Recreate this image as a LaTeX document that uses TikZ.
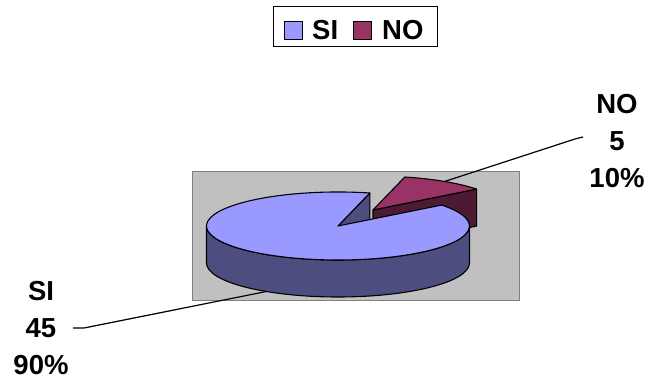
\documentclass[tikz,border=0pt]{standalone}
\usepackage{fontspec}
\setmainfont{Liberation Sans}
\definecolor{sitop}{HTML}{9999FF}
\definecolor{siside}{HTML}{4D4D80}
\definecolor{notop}{HTML}{993366}
\definecolor{noside}{HTML}{4D1A33}
\definecolor{plotfill}{HTML}{C0C0C0}
\definecolor{plotedge}{HTML}{808080}
\begin{document}
\begin{tikzpicture}[x=1pt,y=1pt,
  edge/.style={draw=black,line width=1.1pt,line join=round},
  lbl/.style={font=\fontsize{27.5}{37}\selectfont\bfseries,align=center,inner sep=0pt},
  legtxt/.style={font=\fontsize{27.5}{30}\selectfont\bfseries,inner sep=0pt,anchor=base west},
  legsq/.style={draw=black,line width=1pt,minimum size=18pt,inner sep=0pt},
  leader/.style={draw=black,line width=1.2pt}]
\useasboundingbox (0,0) rectangle (649,379);
\def\rx{131.5}\def\ry{34}\def\dd{37}
% plot area
\node[draw=plotedge,fill=plotfill,line width=1pt,minimum width=327pt,minimum height=129pt,inner sep=0pt,anchor=south west] (plot) at (192,78) {};
% pie centres
\coordinate (C) at (338,153);
\coordinate (Cb) at (338,116);
\coordinate (N) at (373,169);
\coordinate (Nb) at (373,132);
% SI radial face
\draw[edge,fill=siside] (C) -- ++({\rx*cos(76)},{\ry*sin(76)}) -- ++(0,-\dd) -- (Cb) -- cycle;
% NO radial face and top
\draw[edge,fill=noside] (N) -- ++({\rx*cos(38)},{\ry*sin(38)}) -- ++(0,-\dd) -- (Nb) -- cycle;
\draw[edge,fill=notop] (N) -- ++({\rx*cos(38)},{\ry*sin(38)}) arc[start angle=38,end angle=76,x radius=\rx,y radius=\ry] -- cycle;
% SI side and top
\draw[edge,fill=siside] (C) ++(-\rx,0) arc[start angle=180,end angle=360,x radius=\rx,y radius=\ry] -- ++(0,-\dd) arc[start angle=360,end angle=180,x radius=\rx,y radius=\ry] -- cycle;
\draw[edge,fill=sitop] (C) -- ++({\rx*cos(76)},{\ry*sin(76)}) arc[start angle=76,end angle=398,x radius=\rx,y radius=\ry] -- cycle;
% labels
\node[lbl] (lblNO) at (617,238) {NO\\5\\10\%};
\node[lbl] (lblSI) at (41,51) {SI\\45\\90\%};
\coordinate (noEnd) at ({373+\rx*cos(57)},{169+\ry*sin(57)});
\coordinate (siEnd) at ({338+\rx*cos(237)},{116+\ry*sin(237)});
\coordinate (noKnee) at (575,240);
\coordinate (noTip) at (583,242);
\coordinate (siKnee) at (84,51);
\coordinate (siTip) at (73,51);
\draw[leader] (noTip) -- (noKnee) -- (noEnd);
\draw[leader] (siTip) -- (siKnee) -- (siEnd);
% legend
\node[draw=black,line width=1pt,minimum width=164pt,minimum height=40pt,inner sep=0pt,anchor=south west] (legend) at (273,332) {};
\node[legsq,fill=sitop] (sqSI) at (293.5,348) {};
\node[legtxt] (txtSI) at (312,339.5) {SI};
\node[legsq,fill=notop] (sqNO) at (362,348) {};
\node[legtxt] (txtNO) at (382,339.5) {NO};
\end{tikzpicture}
\end{document}
